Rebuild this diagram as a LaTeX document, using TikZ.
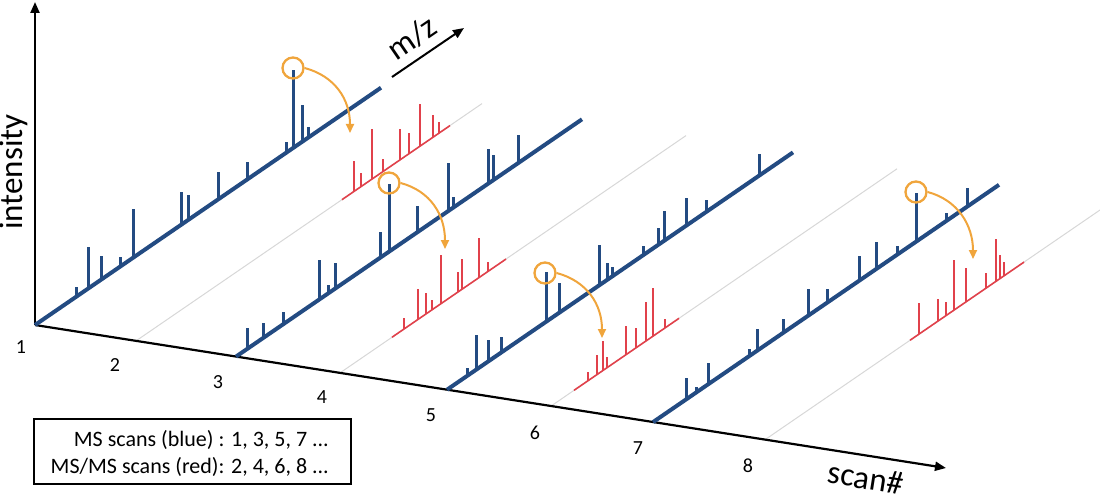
\documentclass[tikz,border=0pt]{standalone}
\usepackage{fontspec}
\setmainfont{Carlito}
\usetikzlibrary{arrows.meta}
\definecolor{msblue}{RGB}{35,75,130}
\definecolor{msred}{RGB}{225,65,75}
\definecolor{msorange}{RGB}{240,165,60}
\definecolor{msgrey}{RGB}{215,215,215}
\begin{document}
\begin{tikzpicture}[x=1pt,y=-1pt,
  axisline/.style={line width=2.2pt,-{Triangle[length=11pt,width=9pt]}},
  blueline/.style={msblue,line width=4pt},
  bpeak/.style={msblue,line width=3pt},
  redline/.style={msred,line width=1.6pt},
  rpeak/.style={msred,line width=1.6pt},
  greyline/.style={msgrey,line width=1pt},
  hilite/.style={circle,draw=msorange,line width=2.3pt,minimum size=21pt,inner sep=0pt},
  transfer/.style={msorange,line width=2pt,-{Triangle[length=9pt,width=8pt]}},
  numlbl/.style={font=\fontsize{20}{24}\selectfont,inner sep=0pt},
  biglbl/.style={font=\fontsize{33}{40}\selectfont,inner sep=0pt},
]
\useasboundingbox (0,0) rectangle (1100,497);

% scan positions on the scan axis
\coordinate (P1) at (35,325);
\coordinate (P2) at (136,340.9);
\coordinate (P3) at (236,356.6);
\coordinate (P4) at (340,372.9);
\coordinate (P5) at (447,389.7);
\coordinate (P6) at (551,406.1);
\coordinate (P7) at (653,422.1);
\coordinate (P8) at (765,439.7);

% grey guide lines of the MS/MS scans
\draw[greyline] (P2) -- ++(346,-237.3);
\draw[greyline] (P4) -- ++(346,-237.3);
\draw[greyline] (P6) -- ++(346,-237.3);
\draw[greyline] (P8) -- (1100,210);

% axes
\coordinate (O) at (35,325);
\coordinate (Itop) at (35,2);
\coordinate (Send) at (946,468);
\draw[axisline] (O) -- (Itop);
\draw[axisline] (O) -- (Send);

% MS scans (blue)
\draw[blueline] (P1) -- ++(346,-237.3);
\foreach \x/\h in {76/10,88/42,101/24,120/10,133/49,181/33,188/25,218/28,247/18,286/11,293/78,302/37,308/11}
  \draw[bpeak] (\x,{325-0.6857*(\x-35)}) -- ++(0,-\h);
\draw[blueline] (P3) -- ++(346,-237.3);
\foreach \x/\h in {247/21,263/15,283/12,319/40,328/9,335/26,380/26,389/68,417/26,448/48,453/11,488/35,493/25,518/28}
  \draw[bpeak] (\x,{356.6-0.6857*(\x-236)}) -- ++(0,-\h);
\draw[blueline] (P5) -- ++(346,-237.3);
\foreach \x/\h in {467/8,476/35,488/22,501/16,546/50,559/30,599/40,607/17,612/10,643/9,658/17,664/30,686/28,706/12,759/22}
  \draw[bpeak] (\x,{389.7-0.6857*(\x-447)}) -- ++(0,-\h);
\draw[blueline] (P7) -- ++(346,-237.3);
\foreach \x/\h in {686/21,696/6,708/21,749/7,757/22,783/14,808/27,827/14,859/25,876/27,897/9,916/49,946/8,967/19}
  \draw[bpeak] (\x,{422.1-0.6857*(\x-653)}) -- ++(0,-\h);

% MS/MS scans (red)
\draw[redline] (342,{340.9-0.6857*(342-136)}) -- (450,{340.9-0.6857*(450-136)});
\foreach \x/\h in {354/30,361/14,372/50,383/13,400/31,409/21,420/42,433/22,439/11}
  \draw[rpeak] (\x,{340.9-0.6857*(\x-136)}) -- ++(0,-\h);
\draw[redline] (392,{372.9-0.6857*(392-340)}) -- (506,{372.9-0.6857*(506-340)});
\foreach \x/\h in {404/11,418/30,426/21,432/10,441/49,458/20,462/30,479/40,488/9}
  \draw[rpeak] (\x,{372.9-0.6857*(\x-340)}) -- ++(0,-\h);
\draw[redline] (574,{406.1-0.6857*(574-551)}) -- (679,{406.1-0.6857*(679-551)});
\foreach \x/\h in {588/9,597/20,603/29,607/11,626/29,636/20,646/39,653/48,665/9}
  \draw[rpeak] (\x,{406.1-0.6857*(\x-551)}) -- ++(0,-\h);
\draw[redline] (910,{439.7-0.6857*(910-765)}) -- (1024,{439.7-0.6857*(1024-765)});
\foreach \x/\h in {919/31,938/22,946/14,954/50,966/34,986/15,996/42,1000/24,1004/14}
  \draw[rpeak] (\x,{439.7-0.6857*(\x-765)}) -- ++(0,-\h);

% selected precursors and transfers
\node[hilite] (c1) at (293,68) {};
\node[hilite] (c2) at (389,183) {};
\node[hilite] (c3) at (545,273) {};
\node[hilite] (c4) at (916,192) {};
\coordinate (t1) at (350,133);
\coordinate (t2) at (445,249);
\coordinate (t3) at (602,338);
\coordinate (t4) at (973,259);
\draw[transfer] (c1.east) .. controls +(30,8) and +(0,-34) .. (t1);
\draw[transfer] (c2.east) .. controls +(30,8) and +(0,-34) .. (t2);
\draw[transfer] (c3.east) .. controls +(30,8) and +(0,-34) .. (t3);
\draw[transfer] (c4.east) .. controls +(30,8) and +(0,-34) .. (t4);

% m/z direction
\coordinate (mz0) at (392,77);
\coordinate (mz1) at (464,28);
\draw[line width=2pt,-{Triangle[length=11pt,width=9pt]}] (mz0) -- (mz1);
\node[biglbl,rotate=34.4] (mzlbl) at (412,38) {m/z};

% axis labels
\node[biglbl,rotate=90] (intlbl) at (14,172) {intensity};
\node[biglbl,rotate=-9] (scanlbl) at (866,478) {scan\#};
\node[numlbl] (n1) at (21,347) {1};
\node[numlbl] (n2) at (115,365) {2};
\node[numlbl] (n3) at (218,382) {3};
\node[numlbl] (n4) at (322,397) {4};
\node[numlbl] (n5) at (431,415) {5};
\node[numlbl] (n6) at (535,433) {6};
\node[numlbl] (n7) at (638,448) {7};
\node[numlbl] (n8) at (748,466) {8};

% legend
\node[draw,line width=1.3pt,minimum width=317pt,minimum height=65pt,inner sep=0pt] (legend) at (192.5,451.5) {};
\node[anchor=east,align=right,inner sep=0pt,font=\fontsize{22}{27}\selectfont] (legendtxt) at (329,453)
  {MS scans (blue) : 1, 3, 5, 7 ...\\MS/MS scans (red): 2, 4, 6, 8 ...};
\end{tikzpicture}
\end{document}
